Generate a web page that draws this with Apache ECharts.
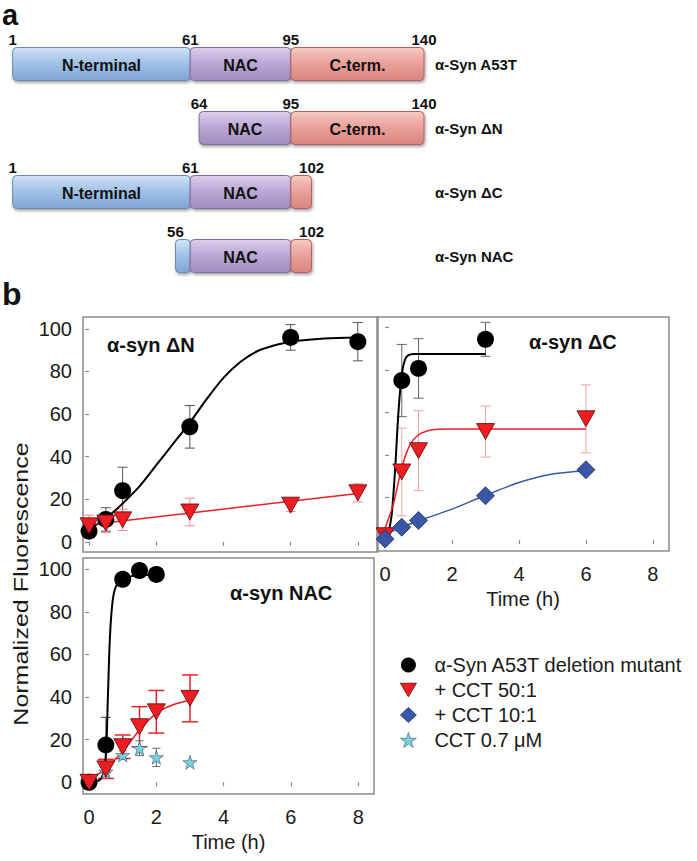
<!DOCTYPE html>
<html><head><meta charset="utf-8">
<script src="https://cdn.jsdelivr.net/npm/echarts@6/dist/echarts.min.js"></script>
<style>html,body{margin:0;padding:0;background:#fff}#c{width:697px;height:861px}</style>
</head><body><div id="c"></div>
<script>
// ---------- panel a: domain map ----------
const constructs = ['α-Syn A53T', 'α-Syn ΔN', 'α-Syn ΔC', 'α-Syn NAC'];
const nTermSpan = [[1, 61], null, [1, 61], [56, 61]];
const nacSpan = [[61, 95], [64, 95], [61, 95], [61, 95]];
const cTermSpan = [[95, 140], [95, 140], [95, 102], [95, 102]];
const domainNames = ['N-terminal', 'NAC', 'C-term.'];
const boundaryLabels = [[1, 61, 95, 140], [64, 95, 140], [1, 61, 102], [56, 102]];

// ---------- panel b: kinetics ----------
const xTicks = [0, 2, 4, 6, 8];
const yTicks = [0, 20, 40, 60, 80, 100];
const legendNames = ['α-Syn A53T deletion mutant', '+ CCT 50:1', '+ CCT 10:1', 'CCT 0.7 μM'];

// α-syn ΔN
const dnTime = [0, 0.5, 1, 3, 6, 8];
const dnMutant = [5, 10.5, 24, 54, 96, 94];
const dnMutantErr = [3, 5.5, 11, 10, 6, 9];
const dnCCT50 = [7.5, 8.8, 10.3, 14, 17.2, 23];
const dnCCT50Err = [5, 4.5, 5, 6.5, 3, 4.3];
const dnFitTime = [0, 0.5, 1, 1.5, 2, 2.5, 3, 3.5, 4, 4.5, 5, 5.5, 6, 7, 8];
const dnFitMutant = [6, 11, 18, 26, 36, 46, 56, 67, 77, 84.5, 89.5, 92.2, 94, 95.5, 96];
const dnFitCCT50Time = [0, 8];
const dnFitCCT50 = [8, 22.7];

// α-syn ΔC
const dcMutantTime = [0.5, 1, 3];
const dcMutant = [75, 80.7, 94.4];
const dcMutantErr = [17, 14, 8];
const dcTime = [0, 0.5, 1, 3, 6];
const dcCCT50 = [2, 32, 42, 51, 57];
const dcCCT50Err = [2, 20.6, 18.8, 12, 16];
const dcCCT10 = [0.5, 6, 9.2, 20.8, 33];
const dcFitMutantTime = [0.1, 0.2, 0.3, 0.4, 0.5, 0.6, 0.7, 0.9, 1.5, 3];
const dcFitMutant = [3, 12, 33, 60, 78, 85, 87, 87.5, 87.5, 87.5];
const dcFitCCT50Time = [0, 0.25, 0.5, 0.75, 1, 1.25, 1.5, 2, 6];
const dcFitCCT50 = [5.5, 17, 34, 45, 49.5, 51.3, 52, 52.2, 52.2];
const dcFitCCT10Time = [0, 0.5, 1, 2, 3, 4, 5, 6];
const dcFitCCT10 = [2.8, 6, 9, 14.5, 21, 27, 31, 32.6];

// α-syn NAC
const nacMutantTime = [0, 0.5, 1, 1.5, 2];
const nacMutant = [0, 17.5, 95.3, 99.4, 97.6];
const nacMutantErr = [1, 13, 3, 1.5, 2.5];
const nacCCT50Time = [0, 0.5, 1, 1.5, 2, 3];
const nacCCT50 = [0, 6.3, 16.7, 26.1, 33.1, 39.4];
const nacCCT50Err = [1, 4.5, 5.5, 9.4, 10, 11];
const nacCCTTime = [0.5, 1, 1.5, 2, 3];
const nacCCT = [5, 12.8, 16, 11.7, 9.4];
const nacCCTErr = [2, 2, 3.5, 4.3, 0];
const nacFitMutantTime = [0, 0.25, 0.4, 0.5, 0.56, 0.62, 0.7, 0.8, 1, 1.5, 2];
const nacFitMutant = [0, 0.5, 3, 13, 40, 68, 85, 92, 95.2, 97.3, 97.3];
const nacFitCCT50Time = [0, 0.5, 1, 1.5, 2, 2.5, 3];
const nacFitCCT50 = [1, 6.5, 14.4, 24.6, 32.4, 36.4, 38.5];

// ---------- styling ----------
const FONT = '"Liberation Sans", Arial, sans-serif';
const TEXT = '#1a1a1a';
const BORDER = '#8a8a8a';
const TRI = 'path://M0,0L20,0L10,17Z';
const STAR = 'path://M50,0L61,35L98,35L68,57L79,91L50,70L21,91L32,57L2,35L39,35Z';
const domainColors = [
  ['#d2e3f5', '#a3c3e8', '#7fa6d4', '#6689b5'],
  ['#dccfec', '#bcaad6', '#a08cc0', '#806ca0'],
  ['#f7c9c4', '#eba39d', '#d9837d', '#b0625d']
];

const zip = (a, b) => a.map((v, i) => [v, b[i]]);
const errData = (t, m, e) => t.map((v, i) => [v, m[i] - e[i], m[i] + e[i]]).filter((d, i) => e[i] > 0);

function errSeries(idx, t, m, e, color, lw, cap) {
  return {
    type: 'custom', xAxisIndex: idx, yAxisIndex: idx, z: 2, silent: true,
    encode: { x: 0, y: [1, 2] },
    data: errData(t, m, e),
    renderItem: (p, api) => {
      const lo = api.coord([api.value(0), api.value(1)]);
      const hi = api.coord([api.value(0), api.value(2)]);
      const st = { stroke: color, lineWidth: lw };
      return { type: 'group', children: [
        { type: 'line', shape: { x1: lo[0], y1: lo[1], x2: hi[0], y2: hi[1] }, style: st },
        { type: 'line', shape: { x1: hi[0] - cap, y1: hi[1], x2: hi[0] + cap, y2: hi[1] }, style: st },
        { type: 'line', shape: { x1: lo[0] - cap, y1: lo[1], x2: lo[0] + cap, y2: lo[1] }, style: st }
      ] };
    }
  };
}
function fitSeries(idx, t, v, color, w) {
  return { type: 'line', name: 'fit', xAxisIndex: idx, yAxisIndex: idx, z: 3, silent: true,
    data: zip(t, v), smooth: 0.3, symbol: 'none', showSymbol: false,
    lineStyle: { color, width: w } };
}
const mk = {
  mutant: { symbol: 'circle', symbolSize: 17, itemStyle: { color: '#000', opacity: 1 } },
  cct50: { symbol: TRI, symbolSize: [18, 16], itemStyle: { color: '#ee1d23', borderColor: '#5a0a0a', borderWidth: 0.8, opacity: 1 } },
  cct10: { symbol: 'diamond', symbolSize: 18, itemStyle: { color: '#3a56a6', borderColor: '#1d2c5c', borderWidth: 0.8, opacity: 1 } },
  cct: { symbol: STAR, symbolSize: 14, itemStyle: { color: '#79d0e3', borderColor: '#335560', borderWidth: 0.6, opacity: 1 } }
};
function scat(idx, nameIdx, key, t, v, z) {
  return Object.assign({ type: 'scatter', name: legendNames[nameIdx], xAxisIndex: idx, yAxisIndex: idx, z: z || 5, data: zip(t, v), silent: true }, mk[key]);
}

// domain data
const domainData = [];
[nTermSpan, nacSpan, cTermSpan].forEach((arr, k) => arr.forEach((sp, row) => { if (sp) domainData.push([sp[0], sp[1], row, k]); }));
const boundaryData = [];
boundaryLabels.forEach((arr, row) => arr.forEach(v => boundaryData.push([v, row])));

function xAx(idx, min, max, showLabel, name, nameGap) {
  return { type: 'value', gridIndex: idx, min, max,
    axisLine: { show: false }, splitLine: { show: false },
    axisTick: { show: true, customValues: xTicks, length: 4, inside: false, lineStyle: { color: BORDER, width: 1.2 } },
    axisLabel: { show: showLabel, customValues: xTicks, fontSize: 20, margin: 13, color: TEXT, fontFamily: FONT },
    name: name || '', nameLocation: 'middle', nameGap: nameGap || 0,
    nameTextStyle: { fontSize: 20, color: TEXT, fontFamily: FONT } };
}
function yAx(idx, min, max, showLabel, inside) {
  return { type: 'value', gridIndex: idx, min, max,
    axisLine: { show: false }, splitLine: { show: false },
    axisTick: { show: true, customValues: yTicks, length: 4, inside: !!inside, lineStyle: { color: BORDER, width: 1.2 } },
    axisLabel: { show: showLabel, customValues: yTicks, fontSize: 20, margin: 11, color: TEXT, fontFamily: FONT } };
}
const gridBox = { show: true, borderColor: BORDER, borderWidth: 1.5, backgroundColor: 'transparent', containLabel: false, outerBoundsMode: 'none' };

const chart = echarts.init(document.getElementById('c'), null, { renderer: 'svg', width: 697, height: 861 });

const option = {
  animation: false,
  backgroundColor: '#fff',
  grid: [
    { left: 12.7, top: 32, width: 411.3, height: 256, show: false, containLabel: false, outerBoundsMode: 'none' },
    Object.assign({ left: 83, top: 317, width: 295, height: 235 }, gridBox),
    Object.assign({ left: 377, top: 317, width: 292, height: 234 }, gridBox),
    Object.assign({ left: 83, top: 558, width: 291, height: 236 }, gridBox)
  ],
  xAxis: [
    { type: 'value', gridIndex: 0, min: 1, max: 140, show: false },
    xAx(1, -0.18, 8.6, false),
    xAx(2, -0.24, 8.48, true, 'Time (h)', 38),
    xAx(3, -0.18, 8.47, true, 'Time (h)', 38)
  ],
  yAxis: [
    { type: 'category', gridIndex: 0, data: constructs, inverse: true, position: 'right',
      axisLine: { show: false }, axisTick: { show: false },
      axisLabel: { margin: 11, fontSize: 15, fontWeight: 'bold', color: '#111', fontFamily: FONT, align: 'left' } },
    yAx(1, -4.8, 105.6, true),
    yAx(2, -5.2, 104.9, false, true),
    yAx(3, -5.5, 105.3, true)
  ],
  legend: {
    orient: 'vertical', left: 395, top: 650, itemWidth: 16, itemHeight: 15, itemGap: 5,
    selectedMode: false,
    textStyle: { fontSize: 20, color: TEXT, fontFamily: FONT, padding: [0, 0, 0, 13] },
    data: [
      { name: legendNames[0], icon: 'circle', itemStyle: { color: '#000' } },
      { name: legendNames[1], icon: TRI, itemStyle: { color: '#ee1d23', borderColor: '#5a0a0a', borderWidth: 0.8 } },
      { name: legendNames[2], icon: 'diamond', itemStyle: { color: '#3a56a6', borderColor: '#1d2c5c', borderWidth: 0.8 } },
      { name: legendNames[3], icon: STAR, itemStyle: { color: '#79d0e3', borderColor: '#335560', borderWidth: 0.6 } }
    ]
  },
  graphic: [
    { type: 'text', x: 2, y: 0, style: { text: 'a', font: 'bold 29px ' + FONT, fill: '#111', textAlign: 'left', align: 'left', textVerticalAlign: 'top', verticalAlign: 'top' } },
    { type: 'text', x: 2, y: 294, style: { text: 'b', font: 'bold 32px ' + FONT, fill: '#111', textAlign: 'left', align: 'left', textVerticalAlign: 'middle', verticalAlign: 'middle' } },
    { type: 'text', x: 107, y: 345, style: { text: 'α-syn ΔN', font: 'bold 20px ' + FONT, fill: '#111', textAlign: 'left', align: 'left', textVerticalAlign: 'middle', verticalAlign: 'middle' } },
    { type: 'text', x: 529, y: 342, style: { text: 'α-syn ΔC', font: 'bold 20px ' + FONT, fill: '#111', textAlign: 'left', align: 'left', textVerticalAlign: 'middle', verticalAlign: 'middle' } },
    { type: 'text', x: 230, y: 593, style: { text: 'α-syn NAC', font: 'bold 20px ' + FONT, fill: '#111', textAlign: 'left', align: 'left', textVerticalAlign: 'middle', verticalAlign: 'middle' } },
    { type: 'text', x: 21, y: 584, rotation: Math.PI / 2, scaleX: 1.25, style: { text: 'Normalized Fluorescence', font: '20px ' + FONT, fill: TEXT, textAlign: 'center', align: 'center', textVerticalAlign: 'middle', verticalAlign: 'middle' } }
  ],
  series: [
    // panel a
    { type: 'custom', xAxisIndex: 0, yAxisIndex: 0, silent: true, encode: { x: [0, 1], y: 2 }, data: domainData,
      renderItem: (p, api) => {
        const row = api.value(2);
        const s = api.coord([api.value(0), row]);
        const e = api.coord([api.value(1), row]);
        const k = api.value(3);
        const c = domainColors[k];
        const h = 33;
        const children = [{ type: 'rect', shape: { x: s[0], y: s[1] - h / 2, width: e[0] - s[0], height: h, r: 4 },
          style: { fill: new echarts.graphic.LinearGradient(0, 0, 0, 1, [{ offset: 0, color: c[0] }, { offset: 0.45, color: c[1] }, { offset: 1, color: c[2] }]),
            stroke: c[3], lineWidth: 1, shadowBlur: 3, shadowOffsetX: 1, shadowOffsetY: 2, shadowColor: 'rgba(0,0,0,0.35)' } }];
        if (api.value(1) - api.value(0) > 20) {
          children.push({ type: 'text', x: (s[0] + e[0]) / 2, y: s[1] + 1,
            style: { text: domainNames[k], font: 'bold 16px ' + FONT, fill: '#111', textAlign: 'center', align: 'center', textVerticalAlign: 'middle', verticalAlign: 'middle' } });
        }
        return { type: 'group', children };
      } },
    { type: 'custom', xAxisIndex: 0, yAxisIndex: 0, silent: true, encode: { x: 0, y: 1 }, data: boundaryData,
      renderItem: (p, api) => {
        const pt = api.coord([api.value(0), api.value(1)]);
        return { type: 'text', x: pt[0], y: pt[1] - 25,
          style: { text: String(api.value(0)), font: 'bold 15px ' + FONT, fill: '#111', textAlign: 'center', align: 'center', textVerticalAlign: 'middle', verticalAlign: 'middle' } };
      } },

    // ΔN panel
    errSeries(1, dnTime, dnMutant, dnMutantErr, '#555', 1, 5),
    errSeries(1, dnTime, dnCCT50, dnCCT50Err, '#f28b8b', 1, 5),
    fitSeries(1, dnFitTime, dnFitMutant, '#000', 2),
    fitSeries(1, dnFitCCT50Time, dnFitCCT50, '#ee1d23', 1.5),
    scat(1, 0, 'mutant', dnTime, dnMutant, 5),
    scat(1, 1, 'cct50', dnTime, dnCCT50, 6),

    // ΔC panel
    errSeries(2, dcMutantTime, dcMutant, dcMutantErr, '#666', 1, 5),
    errSeries(2, dcTime, dcCCT50, dcCCT50Err, '#f4a0a0', 1, 5),
    fitSeries(2, dcFitMutantTime, dcFitMutant, '#000', 2),
    fitSeries(2, dcFitCCT50Time, dcFitCCT50, '#ee1d23', 1.5),
    fitSeries(2, dcFitCCT10Time, dcFitCCT10, '#3a56a6', 1.5),
    scat(2, 0, 'mutant', dcMutantTime, dcMutant, 5),
    scat(2, 1, 'cct50', dcTime, dcCCT50, 6),
    scat(2, 2, 'cct10', dcTime, dcCCT10, 7),

    // NAC panel
    errSeries(3, nacMutantTime, nacMutant, nacMutantErr, '#444', 1, 5),
    errSeries(3, nacCCT50Time, nacCCT50, nacCCT50Err, '#e8262b', 1.5, 8),
    errSeries(3, nacCCTTime, nacCCT, nacCCTErr, '#666', 1, 4),
    fitSeries(3, nacFitMutantTime, nacFitMutant, '#000', 2),
    fitSeries(3, nacFitCCT50Time, nacFitCCT50, '#ee1d23', 1.5),
    scat(3, 3, 'cct', nacCCTTime, nacCCT, 5),
    scat(3, 0, 'mutant', nacMutantTime, nacMutant, 6),
    scat(3, 1, 'cct50', nacCCT50Time, nacCCT50, 7)
  ]
};
chart.setOption(option);
</script>
</body></html>
